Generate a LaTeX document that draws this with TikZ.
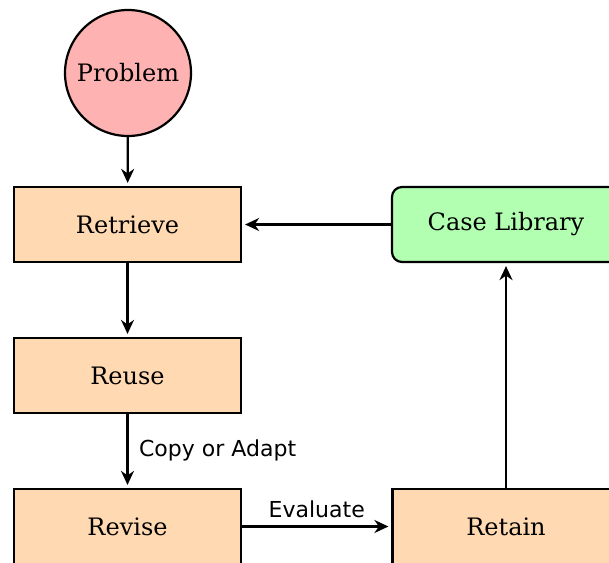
\documentclass[tikz,border=0pt]{standalone}
\usepackage{fontspec}
\setmainfont{DejaVu Serif}
\setsansfont{DejaVu Sans}
\usetikzlibrary{arrows.meta}
\begin{document}
\begin{tikzpicture}[x=1pt,y=-1pt,
  every node/.style={font=\fontsize{24}{28}\selectfont},
  stage/.style={draw, line width=2.2pt, fill=orange!30, minimum width=227pt, minimum height=75pt, inner sep=0pt},
  start/.style={draw, line width=2.2pt, fill=red!30, circle, minimum size=126pt, inner sep=0pt},
  store/.style={draw, line width=2.2pt, fill=green!30, rounded corners=10pt, minimum width=228pt, minimum height=75pt, inner sep=0pt},
  flow/.style={line width=2.2pt, shorten >=3pt, -{Stealth[length=14pt,width=13pt,inset=4.5pt]}},
  tag/.style={font=\sffamily\fontsize{22}{26}\selectfont, inner sep=0pt}]
\useasboundingbox (0,0) rectangle (609,562);
\node[start] (problem) at (128,73) {Problem};
\node[stage] (retrieve) at (127.5,224.5) {Retrieve};
\node[stage] (reuse) at (127.5,375.5) {Reuse};
\node[stage] (revise) at (127.5,526.5) {Revise};
\node[stage] (retain) at (506,526.5) {Retain};
\node[store] (library) at (506,224.5) {Case Library};
\draw[flow] (problem) -- (retrieve);
\draw[flow] (retrieve) -- (reuse);
\draw[flow] (reuse) -- node[tag, anchor=west, xshift=10.5pt, yshift=1pt] {Copy or Adapt} (revise);
\draw[flow] (revise) -- node[tag, anchor=south, yshift=8pt] {Evaluate} (retain);
\draw[flow] (retain) -- (library);
\draw[flow] (library) -- (retrieve);
\end{tikzpicture}
\end{document}
